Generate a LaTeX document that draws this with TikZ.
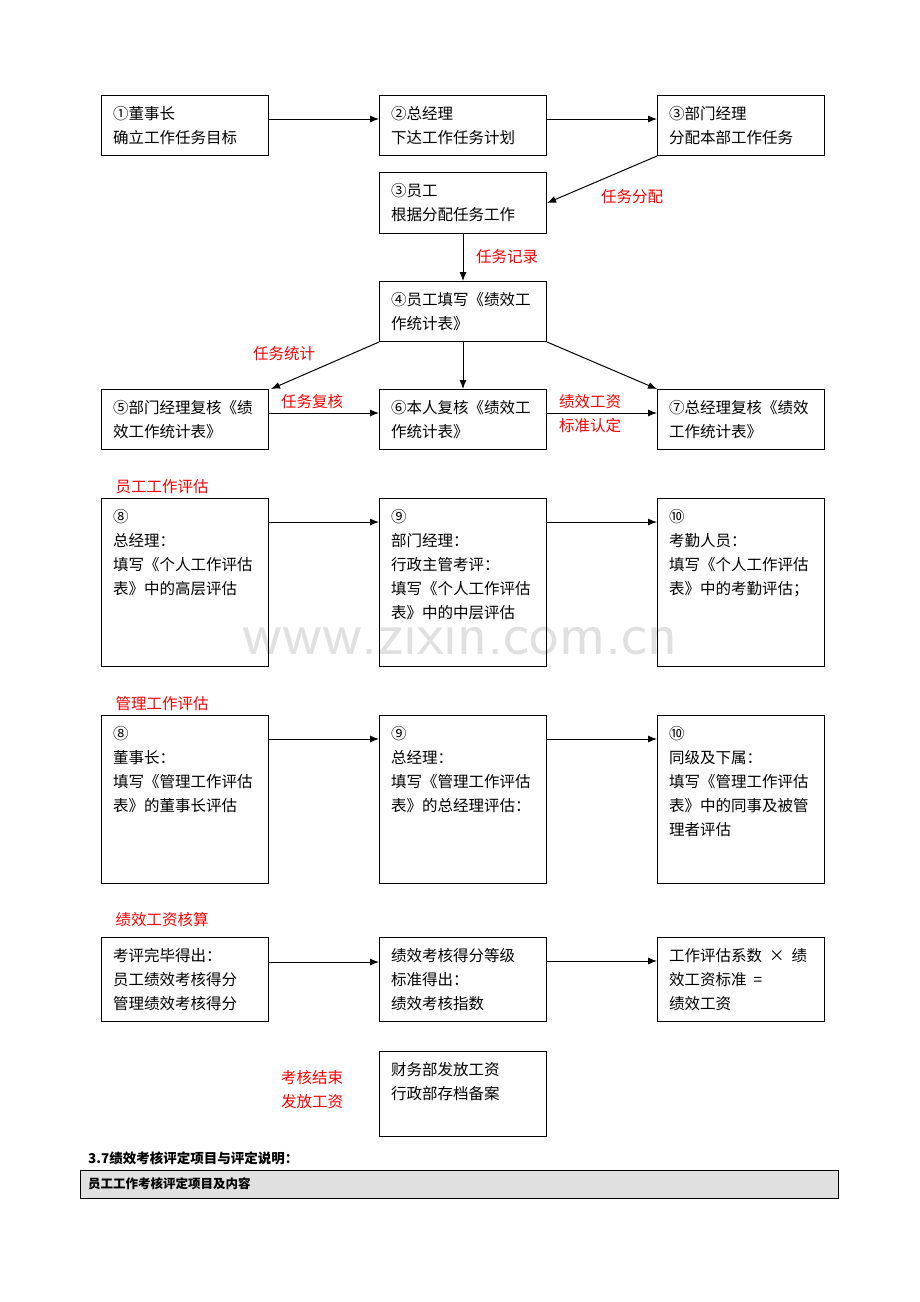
\documentclass[tikz,border=0pt]{standalone}
\usepackage{fontspec}
\setmainfont{Noto Sans CJK SC}
\usetikzlibrary{arrows.meta}
\begin{document}
\begin{tikzpicture}[x=1pt,y=-1pt,
  box/.style={draw,line width=1pt,anchor=north west,inner sep=0pt,minimum width=167pt},
  txt/.style={anchor=north west,inner sep=0pt,align=left,font=\fontsize{15.5pt}{24pt}\selectfont},
  red/.style={text=red,inner sep=0pt,align=center,font=\fontsize{15.5pt}{24pt}\selectfont},
  arr/.style={line width=1pt,-{Latex[length=9pt,width=7pt]}}]
\useasboundingbox (0,0) rectangle (920,1302);
\node[text=black!12,font=\fontsize{62pt}{62pt}\selectfont\sffamily] (wm) at (460,635) {www.zixin.com.cn};
% boxes
\foreach \n/\x/\y/\h in {a/101/95/60,b/379/95/60,c/657/95/60,d/379/172/61,e/379/281/60,
 f/101/389/60,g/379/389/60,h/657/389/60,
 i/101/498/168,j/379/498/168,k/657/498/168,
 l/101/715/168,m/379/715/168,n/657/715/168,
 o/101/937/84,p/379/937/84,q/657/937/84,r/379/1051/85}
 \node[box,minimum height=\h pt] (\n) at (\x,\y) {};
\newcommand{\bt}[2]{\node[txt] (t#1) at ([xshift=12pt,yshift=-11pt]#1.north west) {#2};}
\bt{a}{①董事长\\确立工作任务目标}
\bt{b}{②总经理\\下达工作任务计划}
\bt{c}{③部门经理\\分配本部工作任务}
\bt{d}{③员工\\根据分配任务工作}
\bt{e}{④员工填写《绩效工\\作统计表》}
\bt{f}{⑤部门经理复核《绩\\效工作统计表》}
\bt{g}{⑥本人复核《绩效工\\作统计表》}
\bt{h}{⑦总经理复核《绩效\\工作统计表》}
\bt{i}{⑧\\总经理：\\填写《个人工作评估\\表》中的高层评估}
\bt{j}{⑨\\部门经理：\\行政主管考评：\\填写《个人工作评估\\表》中的中层评估}
\bt{k}{⑩\\考勤人员：\\填写《个人工作评估\\表》中的考勤评估；}
\bt{l}{⑧\\董事长：\\填写《管理工作评估\\表》的董事长评估}
\bt{m}{⑨\\总经理：\\填写《管理工作评估\\表》的总经理评估：}
\bt{n}{⑩\\同级及下属：\\填写《管理工作评估\\表》中的同事及被管\\理者评估}
\bt{o}{考评完毕得出：\\员工绩效考核得分\\管理绩效考核得分}
\bt{p}{绩效考核得分等级\\标准得出：\\绩效考核指数}
\bt{q}{工作评估系数\ \ ×\ \ 绩\\效工资标准\ \ =\\绩效工资}
\bt{r}{财务部发放工资\\行政部存档备案}
% arrows
\draw[arr] (a.east|-0,119) -- (b.west|-0,119);
\draw[arr] (b.east|-0,119) -- (c.west|-0,119);
\draw[arr] (c.south west) -- (d.east);
\draw[arr] (d.south) -- (e.north);
\draw[arr] (e.south west) -- ([xshift=2pt]f.north east);
\draw[arr] (e.south) -- (g.north);
\draw[arr] (e.south east) -- (h.north west);
\draw[arr] ([yshift=-24pt]f.north east) -- ([yshift=-24pt]g.north west);
\draw[arr] ([yshift=-24pt]g.north east) -- ([yshift=-24pt]h.north west);
\foreach \s/\t in {i/j,j/k,l/m,m/n}{\draw[arr] ([yshift=-24pt]\s.north east) -- ([yshift=-24pt]\t.north west);}
\draw[arr] ([yshift=-25pt]o.north east) -- ([yshift=-25pt]p.north west);
\draw[arr] ([yshift=-24pt]p.north east) -- ([yshift=-24pt]q.north west);
% red labels
\node[red] (l1) at (632,197) {任务分配};
\node[red] (l2) at (507,257) {任务记录};
\node[red] (l3) at (284,354) {任务统计};
\node[red] (l4) at (312,402) {任务复核};
\node[red] (l5) at (590,414) {绩效工资\\标准认定};
\node[red] (l6) at (162,487) {员工工作评估};
\node[red] (l7) at (162,704) {管理工作评估};
\node[red] (l8) at (162,920) {绩效工资核算};
\node[red] (l9) at (312,1090) {考核结束\\发放工资};
% bottom
\node[anchor=west,inner sep=0pt,font=\fontsize{13.5pt}{16pt}\selectfont\bfseries] (h37) at (88,1158) {3.7绩效考核评定项目与评定说明：};
\node[draw,fill=black!12,anchor=north west,minimum width=758pt,minimum height=28pt,inner sep=0pt] (tb) at (80,1170) {};
\node[anchor=west,inner sep=0pt,font=\fontsize{12.5pt}{16pt}\selectfont\bfseries] (tbt) at (88,1184) {员工工作考核评定项目及内容};
\end{tikzpicture}
\end{document}
